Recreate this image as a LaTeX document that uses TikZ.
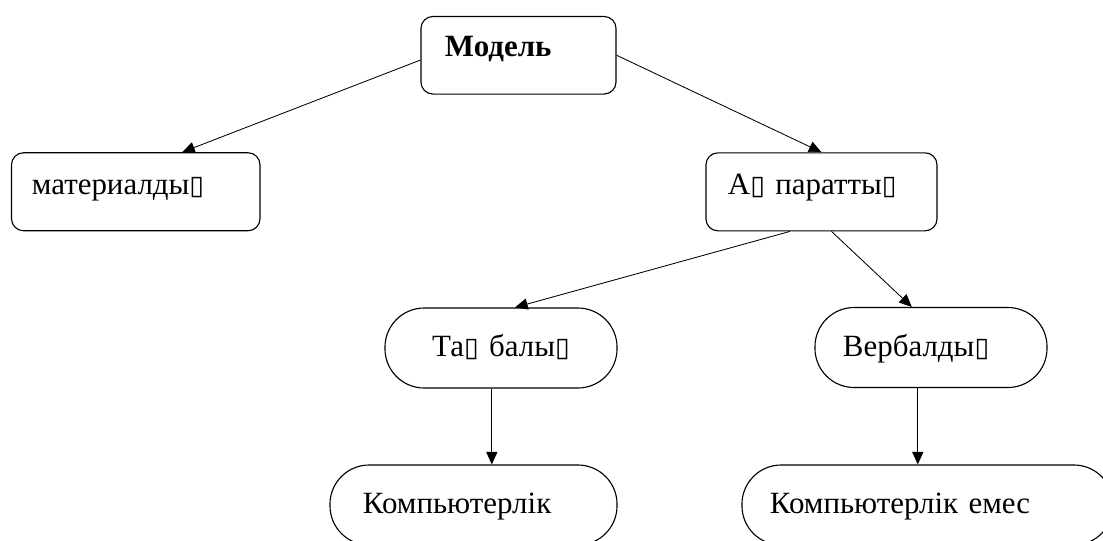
\documentclass[tikz,border=0pt]{standalone}
\usepackage{fontspec}
\setmainfont{Liberation Serif}
\newfontfamily\symfont{DejaVu Sans}
\usetikzlibrary{arrows.meta}
\newcommand{\nogl}{{\symfont\fontsize{19}{22}\selectfont ▯}}

\begin{document}
\begin{tikzpicture}[x=0.025cm, y=-0.025cm,
    font=\fontsize{22}{26}\selectfont,
    box/.style={draw, line width=0.8pt, rounded corners=0.3cm, inner ysep=0pt,
        align=left, text height=1.05cm, text depth=0.9cm},
    pill/.style={draw, line width=0.8pt, rounded corners=0.98cm, inner ysep=0pt,
        text height=1.22cm, text depth=0.78cm},
    link/.style={line width=0.6pt, -{Triangle[length=9pt, width=8pt]}}]
    \useasboundingbox (0,0) rectangle (1103,540);
    \clip (0,0) rectangle (1103,540);

    % Boxes
    \node[box, inner xsep=0.6cm, text width=3.675cm, text height=1.0cm, text depth=0.94cm]
        (m) at (518.5,55.25) {\textbf{Модель}};
    \node[box, inner xsep=0.51cm, text width=5.19cm] (mat) at (135.75,191.75) {материалды\nogl};
    \node[box, inner xsep=0.55cm, text width=4.675cm] (inf) at (821.5,191.85) {А\nogl\ паратты\nogl};

    % Rounded ends
    \node[pill, inner xsep=0pt, text width=5.8cm, align=center] (sgn) at (501,348) {Та\nogl\ балы\nogl};
    \node[pill, inner xsep=0.7cm, text width=4.4cm, align=left] (vrb) at (931,347.5) {Вербалды\nogl};
    \node[pill, inner xsep=0.825cm, text width=5.525cm, align=left] (cmp) at (473.5,505) {Компьютерлік};
    \node[pill, inner xsep=0.7cm, text width=7.875cm, align=left] (ncmp) at (927.5,505) {Компьютерлік емес};

    % Edges
    \draw[link] ([yshift=-0.12cm]m.west) -- ([xshift=1.16cm]mat.north);
    \draw[link] (m.east) -- (inf.north);
    \draw[link] ([xshift=-0.79cm]inf.south) -- ([xshift=0.35cm]sgn.north);
    \draw[link] ([xshift=0.25cm]inf.south) -- ([xshift=-0.48cm]vrb.north);
    \draw[link] ([xshift=-0.23cm]sgn.south) -- ([xshift=-0.23cm]sgn.south |- cmp.north);
    \draw[link] ([xshift=-0.33cm]vrb.south) -- ([xshift=-0.33cm]vrb.south |- ncmp.north);
\end{tikzpicture}
\end{document}
